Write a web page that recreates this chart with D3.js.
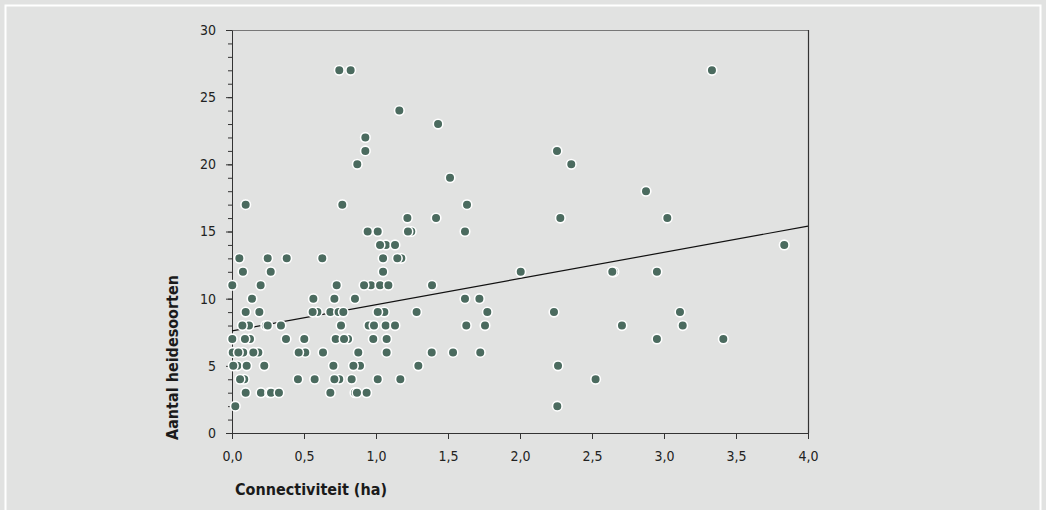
<!DOCTYPE html>
<html>
<head>
<meta charset="utf-8">
<script src="https://cdn.jsdelivr.net/npm/d3@7"></script>
<style>
  body { margin: 0; background: #e1e2e1; }
  svg { display: block; }
  .tick text { font-family: "Liberation Sans Narrow", "DejaVu Sans Condensed", "Arial Narrow", sans-serif; font-stretch: condensed; }
  .title { font-family: "Liberation Sans Narrow", "DejaVu Sans Condensed", "Arial Narrow", sans-serif; font-stretch: condensed; font-weight: bold; }
</style>
</head>
<body>
<div id="chart"></div>
<script>
// connectiviteit (ha) per point, grouped by number of heath species
var xValues = [
  0.745, 0.824, 3.333,
  1.162, 1.431, 0.926,
  0.926, 2.257,
  0.87, 2.356,
  1.514, 2.875,
  0.095, 0.766, 1.632,
  1.218, 1.417, 2.28, 3.023,
  0.942, 1.012, 1.245, 1.222, 1.618,
  1.069, 1.028, 1.132, 3.835,
  0.051, 0.248, 0.38, 0.627, 1.049, 1.176, 1.148,
  0.076, 0.269, 1.049, 2.005, 2.652, 2.641, 2.951,
  0.002, 0.199, 0.727, 0.965, 0.917, 1.028, 1.086, 1.389,
  0.139, 0.565, 0.711, 0.854, 1.618, 1.718,
  0.095, 0.19, 0.593, 0.56, 0.683, 0.74, 0.773, 1.058, 1.012, 1.282, 1.773, 2.236, 3.111,
  0.118, 0.072, 0.235, 0.248, 0.34, 0.757, 0.949, 0.986, 1.067, 1.132, 1.627, 1.757, 2.708, 3.13,
  0.002, 0.125, 0.09, 0.375, 0.502, 0.72, 0.806, 0.778, 0.981, 1.074, 2.951, 3.412,
  0.005, 0.078, 0.044, 0.183, 0.148, 0.509, 0.463, 0.632, 0.877, 1.074, 1.387, 1.535, 1.724,
  0.037, 0.009, 0.102, 0.224, 0.704, 0.889, 0.843, 1.294, 2.264,
  0.085, 0.056, 0.458, 0.574, 0.745, 0.711, 0.831, 1.012, 1.169, 2.525,
  0.095, 0.201, 0.262, 0.271, 0.326, 0.683, 0.854, 0.868, 0.935,
  0.023, 2.259
];
// aantal heidesoorten, same order
var yValues = [
  27, 27, 27,
  24, 23, 22,
  21, 21,
  20, 20,
  19, 18,
  17, 17, 17,
  16, 16, 16, 16,
  15, 15, 15, 15, 15,
  14, 14, 14, 14,
  13, 13, 13, 13, 13, 13, 13,
  12, 12, 12, 12, 12, 12, 12,
  11, 11, 11, 11, 11, 11, 11, 11,
  10, 10, 10, 10, 10, 10,
  9, 9, 9, 9, 9, 9, 9, 9, 9, 9, 9, 9, 9,
  8, 8, 8, 8, 8, 8, 8, 8, 8, 8, 8, 8, 8, 8,
  7, 7, 7, 7, 7, 7, 7, 7, 7, 7, 7, 7,
  6, 6, 6, 6, 6, 6, 6, 6, 6, 6, 6, 6, 6,
  5, 5, 5, 5, 5, 5, 5, 5, 5,
  4, 4, 4, 4, 4, 4, 4, 4, 4, 4,
  3, 3, 3, 3, 3, 3, 3, 3, 3,
  2, 2
];
// regression line end points
var trendX = [0, 4];
var trendY = [7.6, 15.4];
var xTicks = [0, 0.5, 1, 1.5, 2, 2.5, 3, 3.5, 4];
var yTicks = [0, 5, 10, 15, 20, 25, 30];

var w = 1046, h = 510;
var margin = {left: 232, right: 238, top: 30, bottom: 77};

var svg = d3.select("#chart")
    .append("svg")
    .attr("width", w)
    .attr("height", h);

svg.append("rect")
    .attr("width", w)
    .attr("height", h)
    .attr("fill", "#e1e2e1");

// white frame round the panel
svg.append("rect")
    .attr("x", 5.5)
    .attr("y", 5.5)
    .attr("width", 1035)
    .attr("height", 530)
    .attr("fill", "none")
    .attr("stroke", "#ffffff")
    .attr("stroke-width", 2);

var x = d3.scaleLinear().domain([0, 4]).range([margin.left, w - margin.right]);
var y = d3.scaleLinear().domain([0, 30]).range([h - margin.bottom, margin.top]);

// top and right border of the plot
svg.append("line")
    .attr("x1", x(0)).attr("x2", x(4))
    .attr("y1", y(30) + 0.5).attr("y2", y(30) + 0.5)
    .attr("stroke", "#777")
    .attr("stroke-width", 1.2);
svg.append("line")
    .attr("x1", x(4) + 0.5).attr("x2", x(4) + 0.5)
    .attr("y1", y(30)).attr("y2", y(0))
    .attr("stroke", "#333")
    .attr("stroke-width", 1.2);

// minor ticks on y
var yMinor = svg.append("g")
    .attr("transform", "translate(" + x(0) + ",0)")
    .call(d3.axisLeft(y).ticks(30).tickSize(4).tickFormat(""));
yMinor.select(".domain").remove();
yMinor.selectAll("line").attr("stroke", "#333");

var yAxis = svg.append("g")
    .attr("transform", "translate(" + x(0) + ",0)")
    .call(d3.axisLeft(y).tickValues(yTicks).tickSize(6).tickPadding(10).tickSizeOuter(0));
yAxis.selectAll("text").style("font-size", "14px").attr("fill", "#222");
yAxis.selectAll("line, path").attr("stroke", "#333");

var xAxis = svg.append("g")
    .attr("transform", "translate(0," + y(0) + ")")
    .call(d3.axisBottom(x).tickValues(xTicks).tickSize(6).tickPadding(12).tickSizeOuter(0)
        .tickFormat(function (d) { return d3.format(".1f")(d).replace(".", ","); }));
xAxis.selectAll("text").style("font-size", "14px").attr("fill", "#222");
xAxis.selectAll("line, path").attr("stroke", "#333");

// regression line, below the points
svg.append("line")
    .attr("x1", x(trendX[0])).attr("y1", y(trendY[0]))
    .attr("x2", x(trendX[1])).attr("y2", y(trendY[1]))
    .attr("stroke", "#111")
    .attr("stroke-width", 1.2);

var points = xValues.map(function (d, i) { return {x: d, y: yValues[i]}; });

svg.append("g")
    .selectAll("circle")
    .data(points)
    .enter()
    .append("circle")
    .attr("cx", function (d) { return x(d.x); })
    .attr("cy", function (d) { return y(d.y); })
    .attr("r", 4.8)
    .attr("fill", "#4b6b5f")
    .attr("stroke", "#ffffff")
    .attr("stroke-width", 1.6);

svg.append("text")
    .attr("class", "title")
    .attr("x", 235)
    .attr("y", 495)
    .style("font-size", "16px")
    .attr("fill", "#1a1a1a")
    .text("Connectiviteit (ha)");

svg.append("text")
    .attr("class", "title")
    .attr("transform", "translate(178,440) rotate(-90)")
    .style("font-size", "16px")
    .attr("fill", "#1a1a1a")
    .text("Aantal heidesoorten");
</script>
</body>
</html>
